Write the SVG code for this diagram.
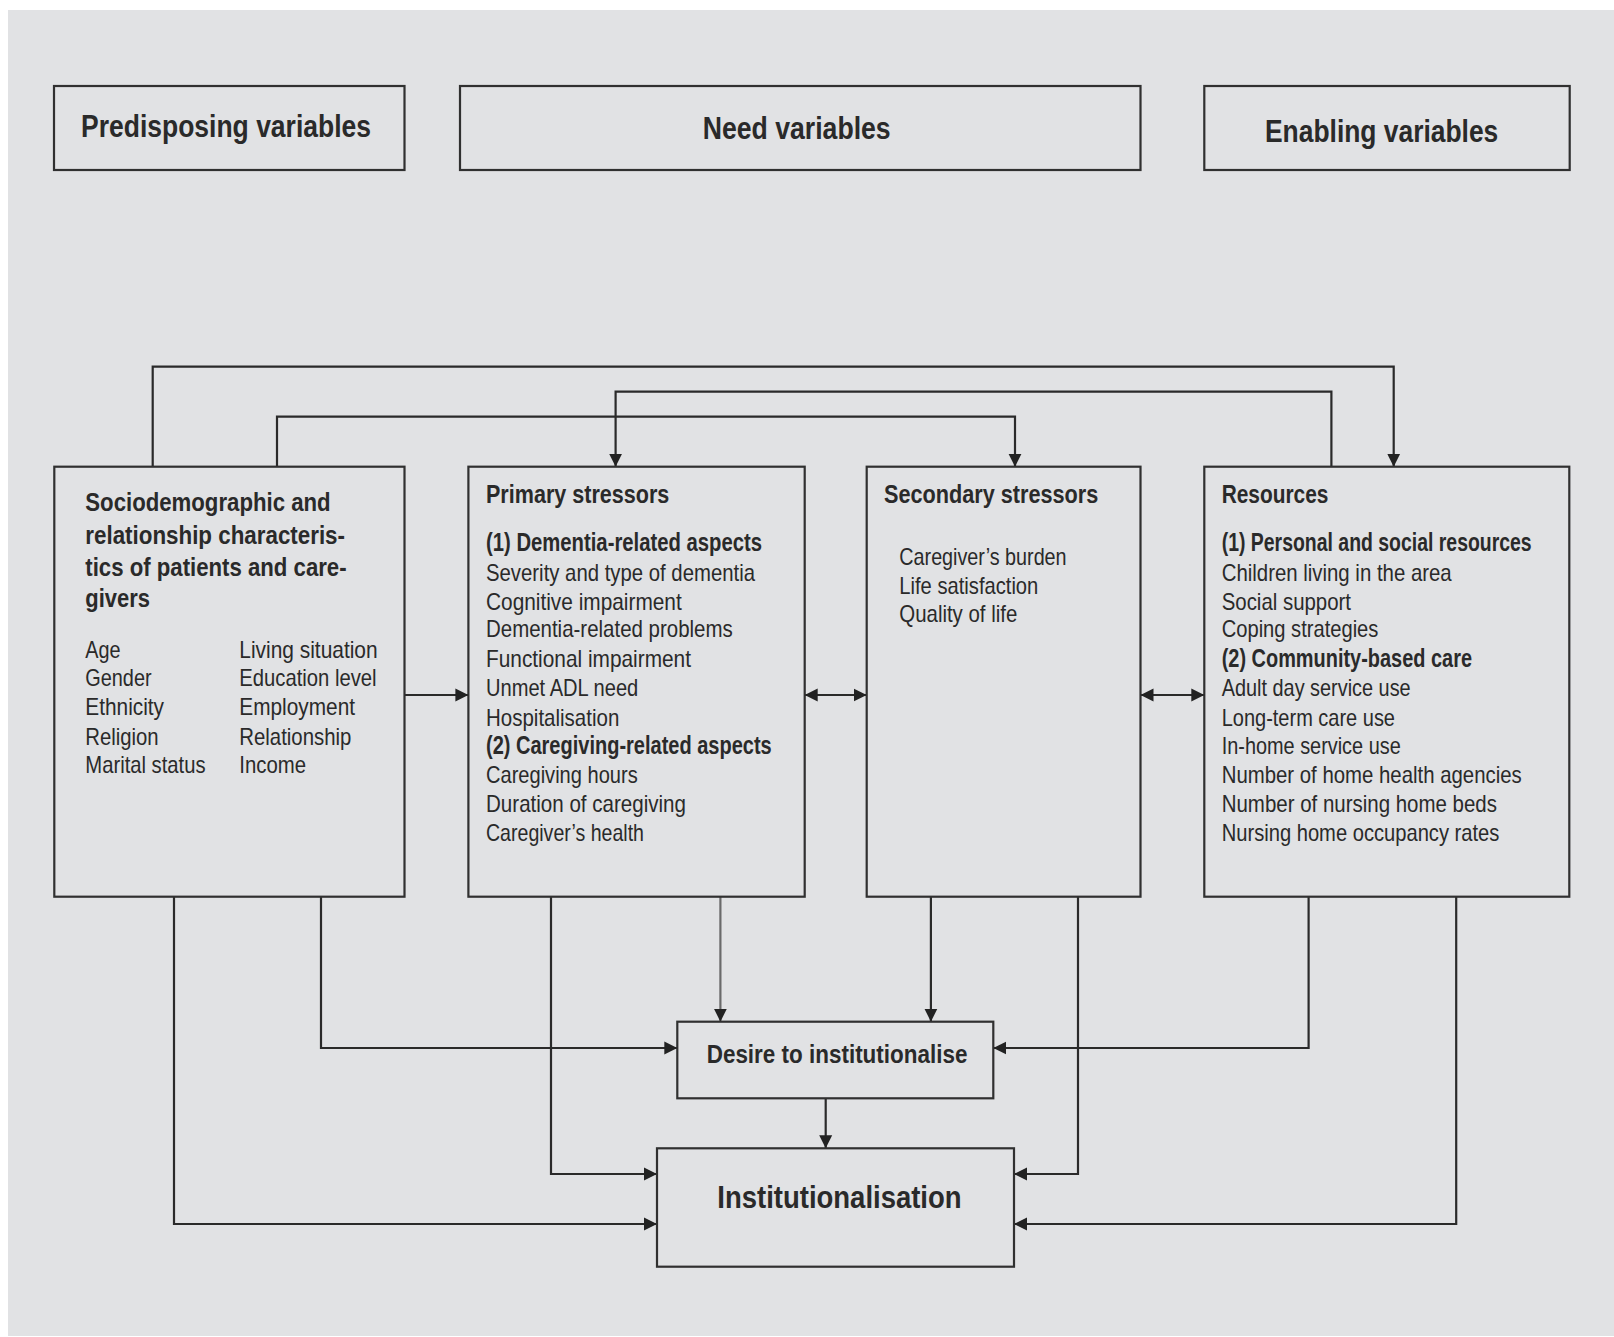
<svg xmlns="http://www.w3.org/2000/svg" width="1614" height="1337" viewBox="0 0 1614 1337">
<style>
.box{fill:#e1e2e4;stroke:#303030;stroke-width:2.2}
.t{font-family:"Liberation Sans",Arial,sans-serif;fill:#2a2a2a}
.b{font-weight:bold}
.hd{font-size:31px;font-weight:bold}
.tt{font-size:25.5px;font-weight:bold}
.it{font-size:24px}
.c{fill:none;stroke:#2a2a2a;stroke-width:2.2}
.ca{marker-end:url(#ah)}
.cb{marker-start:url(#ah);marker-end:url(#ah)}
</style>
<defs>
<marker id="ah" markerUnits="userSpaceOnUse" markerWidth="14" markerHeight="14" refX="13" refY="6.5" orient="auto-start-reverse" viewBox="0 0 14 13">
<path d="M0,0 L13,6.5 L0,13 z" fill="#222"/>
</marker>
</defs>
<rect x="0" y="0" width="1614" height="1337" fill="#ffffff"/>
<rect x="8" y="10" width="1606" height="1326" fill="#e1e2e4"/>

<g id="predisposing">
<rect class="box" x="54" y="86" width="350.5" height="84"/>
<text class="t hd" x="81" y="136.7" textLength="290" lengthAdjust="spacingAndGlyphs">Predisposing variables</text>
</g>
<g id="need">
<rect class="box" x="460" y="86" width="680.5" height="84"/>
<text class="t hd" x="702.7" y="139.3" textLength="188" lengthAdjust="spacingAndGlyphs">Need variables</text>
</g>
<g id="enabling">
<rect class="box" x="1204.3" y="86" width="365.4" height="84"/>
<text class="t hd" x="1265" y="141.7" textLength="233.3" lengthAdjust="spacingAndGlyphs">Enabling variables</text>
</g>

<g id="connectors">
<polyline class="c ca" points="152.7,466.7 152.7,366.7 1393.7,366.7 1393.7,466.7"/>
<polyline class="c ca" points="1331.4,466.7 1331.4,391.7 615.6,391.7 615.6,466.7"/>
<polyline class="c ca" points="277,466.7 277,416.7 1015,416.7 1015,466.7"/>
<line class="c ca" x1="404.5" y1="695" x2="468.4" y2="695"/>
<line class="c cb" x1="804.7" y1="695" x2="866.7" y2="695"/>
<line class="c cb" x1="1140.5" y1="695" x2="1204.3" y2="695"/>
<polyline class="c ca" points="174,896.7 174,1224 657,1224"/>
<polyline class="c ca" points="321,896.7 321,1048 677.3,1048"/>
<polyline class="c ca" points="551,896.7 551,1174 657,1174"/>
<line class="c ca" x1="720.4" y1="896.7" x2="720.4" y2="1021.7" style="stroke:#6a6a6a"/>
<line class="c ca" x1="930.9" y1="896.7" x2="930.9" y2="1021.7"/>
<polyline class="c ca" points="1078,896.7 1078,1174 1014,1174"/>
<polyline class="c ca" points="1308.6,896.7 1308.6,1048 993.3,1048"/>
<polyline class="c ca" points="1456.2,896.7 1456.2,1224 1014,1224"/>
<line class="c ca" x1="825.7" y1="1098.3" x2="825.7" y2="1148.3"/>
</g>

<g id="sociodemographic">
<rect class="box" x="54.3" y="466.7" width="350.2" height="430"/>
<text class="t tt" x="85.3" y="511" textLength="245.3" lengthAdjust="spacingAndGlyphs">Sociodemographic and</text>
<text class="t tt" x="85.3" y="543.5" textLength="259.7" lengthAdjust="spacingAndGlyphs">relationship characteris-</text>
<text class="t tt" x="85.3" y="576" textLength="261.3" lengthAdjust="spacingAndGlyphs">tics of patients and care-</text>
<text class="t tt" x="85.3" y="607" textLength="64.7" lengthAdjust="spacingAndGlyphs">givers</text>
<text class="t it" x="85.3" y="658.3" textLength="35.3" lengthAdjust="spacingAndGlyphs">Age</text>
<text class="t it" x="85.3" y="686.3" textLength="66.3" lengthAdjust="spacingAndGlyphs">Gender</text>
<text class="t it" x="85.3" y="715" textLength="78.7" lengthAdjust="spacingAndGlyphs">Ethnicity</text>
<text class="t it" x="85.3" y="745" textLength="73.3" lengthAdjust="spacingAndGlyphs">Religion</text>
<text class="t it" x="85.3" y="773.3" textLength="120.3" lengthAdjust="spacingAndGlyphs">Marital status</text>
<text class="t it" x="239.3" y="658.3" textLength="138.3" lengthAdjust="spacingAndGlyphs">Living situation</text>
<text class="t it" x="239.3" y="686.3" textLength="137.3" lengthAdjust="spacingAndGlyphs">Education level</text>
<text class="t it" x="239.3" y="715" textLength="115.7" lengthAdjust="spacingAndGlyphs">Employment</text>
<text class="t it" x="239.3" y="745" textLength="112" lengthAdjust="spacingAndGlyphs">Relationship</text>
<text class="t it" x="239.3" y="773.3" textLength="66.7" lengthAdjust="spacingAndGlyphs">Income</text>
</g>

<g id="primary">
<rect class="box" x="468.4" y="466.7" width="336.3" height="430"/>
<text class="t tt" x="486" y="503.3" textLength="183.3" lengthAdjust="spacingAndGlyphs">Primary stressors</text>
<text class="t tt" x="486" y="550.7" textLength="276" lengthAdjust="spacingAndGlyphs">(1) Dementia-related aspects</text>
<text class="t it" x="486" y="580.7" textLength="269" lengthAdjust="spacingAndGlyphs">Severity and type of dementia</text>
<text class="t it" x="486" y="610.3" textLength="195.7" lengthAdjust="spacingAndGlyphs">Cognitive impairment</text>
<text class="t it" x="486" y="637.3" textLength="246.7" lengthAdjust="spacingAndGlyphs">Dementia-related problems</text>
<text class="t it" x="486" y="666.7" textLength="205" lengthAdjust="spacingAndGlyphs">Functional impairment</text>
<text class="t it" x="486" y="696" textLength="152.3" lengthAdjust="spacingAndGlyphs">Unmet ADL need</text>
<text class="t it" x="486" y="725.7" textLength="133.3" lengthAdjust="spacingAndGlyphs">Hospitalisation</text>
<text class="t tt" x="486" y="754" textLength="285.7" lengthAdjust="spacingAndGlyphs">(2) Caregiving-related aspects</text>
<text class="t it" x="486" y="782.7" textLength="151.7" lengthAdjust="spacingAndGlyphs">Caregiving hours</text>
<text class="t it" x="486" y="811.7" textLength="200" lengthAdjust="spacingAndGlyphs">Duration of caregiving</text>
<text class="t it" x="486" y="840.7" textLength="158" lengthAdjust="spacingAndGlyphs">Caregiver’s health</text>
</g>

<g id="secondary">
<rect class="box" x="866.7" y="466.7" width="273.8" height="430"/>
<text class="t tt" x="884" y="503.3" textLength="214.3" lengthAdjust="spacingAndGlyphs">Secondary stressors</text>
<text class="t it" x="899.3" y="565" textLength="167.3" lengthAdjust="spacingAndGlyphs">Caregiver’s burden</text>
<text class="t it" x="899.3" y="594" textLength="139" lengthAdjust="spacingAndGlyphs">Life satisfaction</text>
<text class="t it" x="899.3" y="621.7" textLength="118" lengthAdjust="spacingAndGlyphs">Quality of life</text>
</g>

<g id="resources">
<rect class="box" x="1204.3" y="466.7" width="365" height="430"/>
<text class="t tt" x="1221.7" y="503.3" textLength="106.7" lengthAdjust="spacingAndGlyphs">Resources</text>
<text class="t tt" x="1221.7" y="550.7" textLength="310" lengthAdjust="spacingAndGlyphs">(1) Personal and social resources</text>
<text class="t it" x="1221.7" y="580.7" textLength="230" lengthAdjust="spacingAndGlyphs">Children living in the area</text>
<text class="t it" x="1221.7" y="610.3" textLength="129.3" lengthAdjust="spacingAndGlyphs">Social support</text>
<text class="t it" x="1221.7" y="637.3" textLength="156.7" lengthAdjust="spacingAndGlyphs">Coping strategies</text>
<text class="t tt" x="1221.7" y="666.7" textLength="250.3" lengthAdjust="spacingAndGlyphs">(2) Community-based care</text>
<text class="t it" x="1221.7" y="696" textLength="189" lengthAdjust="spacingAndGlyphs">Adult day service use</text>
<text class="t it" x="1221.7" y="725.7" textLength="173.3" lengthAdjust="spacingAndGlyphs">Long-term care use</text>
<text class="t it" x="1221.7" y="754" textLength="179" lengthAdjust="spacingAndGlyphs">In-home service use</text>
<text class="t it" x="1221.7" y="782.7" textLength="300" lengthAdjust="spacingAndGlyphs">Number of home health agencies</text>
<text class="t it" x="1221.7" y="811.7" textLength="275.3" lengthAdjust="spacingAndGlyphs">Number of nursing home beds</text>
<text class="t it" x="1221.7" y="840.7" textLength="277.7" lengthAdjust="spacingAndGlyphs">Nursing home occupancy rates</text>
</g>

<g id="desire">
<rect class="box" x="677.3" y="1021.7" width="316" height="76.6"/>
<text class="t tt" x="706.7" y="1063.3" textLength="260.7" lengthAdjust="spacingAndGlyphs">Desire to institutionalise</text>
</g>
<g id="institutionalisation">
<rect class="box" x="657" y="1148.3" width="357" height="118.4"/>
<text class="t hd" x="717.3" y="1208.3" textLength="244.3" lengthAdjust="spacingAndGlyphs">Institutionalisation</text>
</g>
</svg>
